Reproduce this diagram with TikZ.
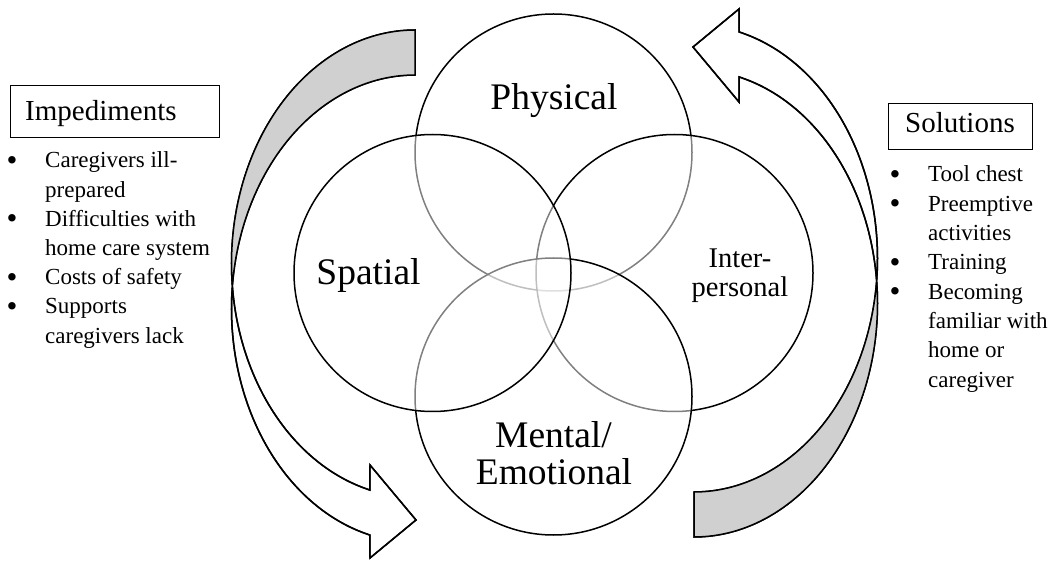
\documentclass[tikz,border=0pt]{standalone}
\usepackage{fontspec}
\setmainfont{Liberation Serif}
\definecolor{backgray}{RGB}{208,208,208}
\newcommand{\ArrowOutline}{plot[domain=180:104.23,samples=60] ({415+183.5*cos(\x)},{263.6+233.6*sin(\x)}) -- (370,465) -- (416,520) -- (370,558) -- plot[domain=104.23:180,samples=60] ({415+183.5*cos(\x)},{308.6+233.6*sin(\x)}) -- plot[domain=180:270,samples=60] ({415+183.5*cos(\x)},{308.6+233.6*sin(\x)}) -- (415,30) -- plot[domain=270:180,samples=60] ({415+183.5*cos(\x)},{263.6+233.6*sin(\x)}) -- cycle}
\newcommand{\ArrowBack}{plot[domain=270:174.47,samples=70] ({415+183.5*cos(\x)},{263.6+233.6*sin(\x)}) -- plot[domain=185.53:270,samples=70] ({415+183.5*cos(\x)},{308.6+233.6*sin(\x)}) -- cycle}
\begin{document}
\begin{tikzpicture}[x=1pt,y=-1pt,
  venn/.style={circle, draw=black, line width=1.5pt, fill=white, fill opacity=0.5, draw opacity=1, minimum size=277pt, inner sep=0pt},
  biglabel/.style={font=\fontsize{37.5}{40}\selectfont, inner sep=0pt, anchor=base},
  midlabel/.style={font=\fontsize{28.5}{30}\selectfont, inner sep=0pt, anchor=base},
  boxtitle/.style={font=\fontsize{29}{31}\selectfont, inner sep=0pt, anchor=base west},
  titlebox/.style={draw, line width=0.9pt, inner sep=0pt, anchor=north west},
  itemtext/.style={font=\fontsize{23}{29}\selectfont, inner sep=0pt, anchor=base west},
  bul/.style={font=\fontsize{31}{33}\selectfont, inner sep=0pt, anchor=base, yshift=-2.4pt},
  arrowline/.style={line width=1.5pt, line join=miter},
]
\useasboundingbox (0,0) rectangle (1053,561);

% curved arrows
\filldraw[arrowline, fill=white] \ArrowOutline;
\fill[backgray] \ArrowBack;
\draw[arrowline] \ArrowOutline;
\begin{scope}[rotate around={180:(554.5,283.5)}]
\filldraw[arrowline, fill=white] \ArrowOutline;
\fill[backgray] \ArrowBack;
\draw[arrowline] \ArrowOutline;
\end{scope}

% Venn circles (drawn clockwise from top)
\node[venn] (phys) at (553.5,152.5) {};
\node[venn] (inter) at (674.5,273) {};
\node[venn] (ment) at (553.5,396.5) {};
\node[venn] (spat) at (432.5,273) {};

% circle labels
\node[biglabel] (physlbl) at (554,109.5) {Physical};
\node[biglabel] (spatlbl) at (368.5,285) {Spatial};
\node[midlabel] (interlblA) at (740,268) {Inter-};
\node[midlabel] (interlblB) at (740,297) {personal};
\node[biglabel] (mentlblA) at (553.5,447.5) {Mental/};
\node[biglabel] (mentlblB) at (554,484.5) {Emotional};

% Impediments
\node[titlebox, minimum width=209pt, minimum height=52pt] (impbox) at (10,85) {};
\node[boxtitle] (imptitle) at (25,120.7) {Impediments};
\node[bul] (lb1) at (12,168) {\textbullet};
\node[bul] (lb2) at (12,226.4) {\textbullet};
\node[bul] (lb3) at (12,284.8) {\textbullet};
\node[bul] (lb4) at (12,314) {\textbullet};
\node[itemtext] (l1) at (45,168) {Caregivers ill-};
\node[itemtext] (l2) at (45,197.2) {prepared};
\node[itemtext] (l3) at (45,226.4) {Difficulties with};
\node[itemtext] (l4) at (45,255.6) {home care system};
\node[itemtext] (l5) at (45,284.8) {Costs of safety};
\node[itemtext] (l6) at (45,314) {Supports};
\node[itemtext] (l7) at (45,343.2) {caregivers lack};

% Solutions
\node[titlebox, minimum width=144pt, minimum height=46pt] (solbox) at (888,103) {};
\node[boxtitle] (soltitle) at (905,133) {Solutions};
\node[bul] (rb1) at (895,182) {\textbullet};
\node[bul] (rb2) at (895,211.3) {\textbullet};
\node[bul] (rb3) at (895,269.9) {\textbullet};
\node[bul] (rb4) at (895,299.2) {\textbullet};
\node[itemtext] (r1) at (928,182) {Tool chest};
\node[itemtext] (r2) at (928,211.3) {Preemptive};
\node[itemtext] (r3) at (928,240.6) {activities};
\node[itemtext] (r4) at (928,269.9) {Training};
\node[itemtext] (r5) at (928,299.2) {Becoming};
\node[itemtext] (r6) at (928,328.5) {familiar with};
\node[itemtext] (r7) at (928,357.8) {home or};
\node[itemtext] (r8) at (928,387.1) {caregiver};
\end{tikzpicture}
\end{document}
